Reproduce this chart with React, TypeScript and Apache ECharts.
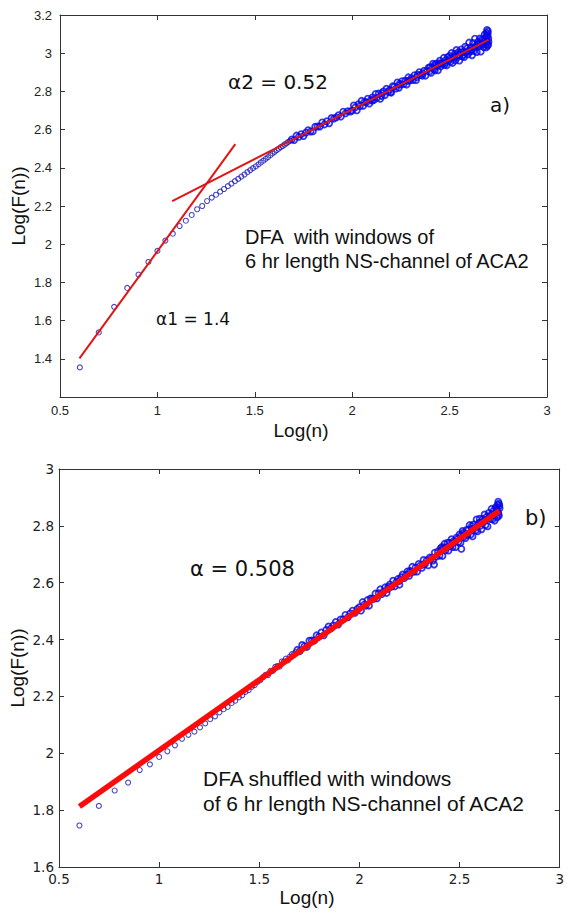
import React, { useEffect, useRef } from "react";
import * as echarts from "echarts";

// ---------- Data ----------
// Panel a): DFA of the original series, [Log(n), Log(F(n))]
const topPoints: number[][] = [
  [0.602, 1.355], [0.699, 1.538], [0.778, 1.672], [0.845, 1.771], [0.903, 1.841], [0.954, 1.907],
  [1.0, 1.965], [1.041, 2.019], [1.079, 2.055], [1.114, 2.095], [1.146, 2.123], [1.176, 2.153],
  [1.204, 2.183], [1.23, 2.2], [1.255, 2.226], [1.279, 2.244], [1.301, 2.259], [1.322, 2.275],
  [1.342, 2.289], [1.362, 2.304], [1.38, 2.317], [1.398, 2.33], [1.415, 2.342], [1.431, 2.354],
  [1.447, 2.365], [1.462, 2.377], [1.477, 2.388], [1.491, 2.398], [1.505, 2.408], [1.519, 2.418],
  [1.531, 2.428], [1.544, 2.437], [1.556, 2.447], [1.568, 2.456], [1.58, 2.466], [1.591, 2.475],
  [1.602, 2.484], [1.613, 2.493], [1.623, 2.5], [1.633, 2.508], [1.643, 2.514], [1.653, 2.522],
  [1.663, 2.528], [1.672, 2.536], [1.681, 2.541],
  [1.69, 2.549], [1.702, 2.545], [1.714, 2.569], [1.726, 2.562], [1.738, 2.576], [1.75, 2.566],
  [1.762, 2.584], [1.774, 2.597], [1.786, 2.59], [1.798, 2.591], [1.81, 2.615], [1.822, 2.616],
  [1.834, 2.616], [1.846, 2.638], [1.858, 2.627], [1.87, 2.644], [1.882, 2.633], [1.894, 2.661],
  [1.906, 2.657], [1.918, 2.664], [1.93, 2.676], [1.942, 2.668], [1.954, 2.694], [1.966, 2.685],
  [1.978, 2.697], [1.99, 2.694],
  [2.0, 2.699], [2.008, 2.727], [2.016, 2.717], [2.024, 2.701], [2.032, 2.733], [2.04, 2.723],
  [2.048, 2.751], [2.056, 2.724], [2.064, 2.746], [2.072, 2.742], [2.08, 2.762], [2.088, 2.736],
  [2.096, 2.756], [2.104, 2.769], [2.112, 2.755], [2.12, 2.787], [2.128, 2.767], [2.136, 2.789],
  [2.144, 2.761], [2.152, 2.79], [2.16, 2.8], [2.168, 2.78], [2.176, 2.814], [2.184, 2.798],
  [2.192, 2.808], [2.2, 2.793], [2.208, 2.827], [2.216, 2.825], [2.224, 2.815], [2.232, 2.847],
  [2.24, 2.819], [2.248, 2.836], [2.256, 2.854], [2.264, 2.838], [2.272, 2.856], [2.28, 2.836],
  [2.288, 2.874], [2.296, 2.858], [2.304, 2.869], [2.312, 2.859], [2.32, 2.885], [2.328, 2.859],
  [2.336, 2.887], [2.344, 2.901], [2.352, 2.886], [2.36, 2.882], [2.368, 2.908], [2.376, 2.882],
  [2.384, 2.908], [2.392, 2.924],
  [2.4, 2.927], [2.405, 2.897], [2.41, 2.925], [2.415, 2.945], [2.42, 2.917], [2.425, 2.91],
  [2.43, 2.945], [2.435, 2.933], [2.44, 2.91], [2.445, 2.948], [2.45, 2.961], [2.455, 2.931],
  [2.46, 2.948], [2.465, 2.943], [2.47, 2.976], [2.475, 2.939], [2.48, 2.964], [2.485, 2.936],
  [2.49, 2.979], [2.495, 2.961], [2.5, 2.986], [2.505, 2.956], [2.51, 3.001], [2.515, 2.949],
  [2.52, 2.983], [2.525, 2.98], [2.53, 2.963], [2.535, 3.017], [2.54, 2.978], [2.545, 3.006],
  [2.55, 2.961], [2.555, 3.005], [2.56, 3.02], [2.565, 2.984], [2.57, 3.006], [2.575, 2.98],
  [2.58, 3.034], [2.585, 3.004], [2.59, 3.026], [2.595, 2.994], [2.6, 3.056], [2.605, 3.009],
  [2.61, 3.032], [2.615, 2.989], [2.62, 3.054], [2.625, 3.011], [2.63, 3.076], [2.635, 3.037],
  [2.64, 3.006], [2.645, 3.059], [2.65, 3.036], [2.655, 3.077], [2.66, 3.008], [2.665, 3.073],
  [2.67, 3.068], [2.675, 3.032], [2.68, 3.098], [2.685, 3.046], [2.69, 3.107], [2.695, 3.039],
  [2.699, 3.078], [2.692, 3.122], [2.697, 3.115], [2.688, 3.03], [2.698, 3.045], [2.694, 3.09],
  [2.687, 3.085],
  // extra crowded points in the thick part of the band
  [2.103, 2.752], [2.151, 2.776], [2.197, 2.796], [2.243, 2.84], [2.287, 2.855], [2.331, 2.875],
  [2.362, 2.895], [2.398, 2.905], [2.422, 2.936], [2.452, 2.944], [2.478, 2.95], [2.503, 2.972],
  [2.527, 2.996], [2.552, 2.988], [2.572, 2.992], [2.593, 3.012], [2.612, 3.016], [2.628, 3.028],
  [2.642, 3.044], [2.657, 3.05], [2.668, 3.045], [2.678, 3.064], [2.683, 3.074], [2.691, 3.062],
  [2.696, 3.1], [2.7, 3.06],
];
// fitted lines of panel a)
const topFitAlpha1: number[][] = [[0.6, 1.402], [1.4, 2.524]];
const topFitAlpha2: number[][] = [[1.076, 2.226], [2.699, 3.07]];

// Panel b): DFA of the shuffled series
const bottomPoints: number[][] = [
  [0.602, 1.746], [0.699, 1.815], [0.778, 1.869], [0.845, 1.897], [0.903, 1.941], [0.954, 1.961],
  [1.0, 1.987], [1.041, 2.007], [1.079, 2.028], [1.114, 2.051], [1.146, 2.065], [1.176, 2.076],
  [1.204, 2.091], [1.23, 2.105], [1.255, 2.12], [1.279, 2.13], [1.301, 2.144], [1.322, 2.155],
  [1.342, 2.163], [1.362, 2.177], [1.38, 2.185], [1.398, 2.197], [1.415, 2.204], [1.431, 2.216],
  [1.447, 2.222], [1.462, 2.234], [1.477, 2.24], [1.491, 2.251], [1.505, 2.257], [1.519, 2.268],
  [1.531, 2.276], [1.544, 2.275], [1.556, 2.29], [1.568, 2.29], [1.58, 2.304], [1.591, 2.307],
  [1.602, 2.305], [1.613, 2.323], [1.623, 2.323], [1.633, 2.333], [1.643, 2.327], [1.653, 2.34],
  [1.663, 2.349], [1.672, 2.348], [1.681, 2.356],
  [1.69, 2.364], [1.702, 2.359], [1.714, 2.381], [1.726, 2.377], [1.738, 2.374], [1.75, 2.396],
  [1.762, 2.397], [1.774, 2.396], [1.786, 2.415], [1.798, 2.41], [1.81, 2.425], [1.822, 2.415],
  [1.834, 2.434], [1.846, 2.446], [1.858, 2.439], [1.87, 2.45], [1.882, 2.462], [1.894, 2.453],
  [1.906, 2.471], [1.918, 2.471], [1.93, 2.487], [1.942, 2.478], [1.954, 2.492], [1.966, 2.502],
  [1.978, 2.494], [1.99, 2.508],
  [2.0, 2.514], [2.008, 2.502], [2.016, 2.532], [2.024, 2.523], [2.032, 2.519], [2.04, 2.539],
  [2.048, 2.519], [2.056, 2.545], [2.064, 2.544], [2.072, 2.543], [2.08, 2.562], [2.088, 2.545],
  [2.096, 2.563], [2.104, 2.577], [2.112, 2.56], [2.12, 2.569], [2.128, 2.584], [2.136, 2.564],
  [2.144, 2.586], [2.152, 2.594], [2.16, 2.586], [2.168, 2.607], [2.176, 2.587], [2.184, 2.602],
  [2.192, 2.613], [2.2, 2.593], [2.208, 2.619], [2.216, 2.629], [2.224, 2.616], [2.232, 2.628],
  [2.24, 2.64], [2.248, 2.624], [2.256, 2.636], [2.264, 2.656], [2.272, 2.638], [2.28, 2.653],
  [2.288, 2.639], [2.296, 2.666], [2.304, 2.66], [2.312, 2.652], [2.32, 2.68], [2.328, 2.666],
  [2.336, 2.679], [2.344, 2.661], [2.352, 2.689], [2.36, 2.687], [2.368, 2.678], [2.376, 2.706],
  [2.384, 2.692], [2.392, 2.71], [2.373, 2.664],
  [2.4, 2.695], [2.405, 2.721], [2.41, 2.714], [2.415, 2.694], [2.42, 2.723], [2.425, 2.737],
  [2.43, 2.714], [2.435, 2.724], [2.44, 2.741], [2.445, 2.713], [2.45, 2.74], [2.455, 2.73],
  [2.46, 2.753], [2.465, 2.725], [2.47, 2.746], [2.475, 2.742], [2.48, 2.725], [2.485, 2.759],
  [2.49, 2.753], [2.495, 2.744], [2.5, 2.77], [2.505, 2.741], [2.51, 2.767], [2.515, 2.782],
  [2.52, 2.76], [2.525, 2.769], [2.53, 2.757], [2.535, 2.786], [2.54, 2.768], [2.545, 2.787],
  [2.509, 2.719],
  [2.55, 2.803], [2.555, 2.769], [2.56, 2.789], [2.565, 2.763], [2.57, 2.805], [2.575, 2.792],
  [2.58, 2.784], [2.585, 2.823], [2.59, 2.781], [2.595, 2.809], [2.6, 2.825], [2.605, 2.801],
  [2.61, 2.788], [2.615, 2.824], [2.62, 2.817], [2.625, 2.84], [2.63, 2.803], [2.635, 2.832],
  [2.64, 2.798], [2.645, 2.845], [2.65, 2.834], [2.655, 2.824], [2.66, 2.86], [2.665, 2.823],
  [2.67, 2.854], [2.675, 2.818], [2.68, 2.865], [2.685, 2.854], [2.69, 2.875], [2.695, 2.841],
  [2.699, 2.871], [2.693, 2.885], [2.697, 2.878], [2.688, 2.83], [2.696, 2.835],
  // extra crowded points
  [2.142, 2.578], [2.198, 2.606], [2.252, 2.642], [2.318, 2.664], [2.412, 2.726], [2.462, 2.738],
  [2.518, 2.775], [2.562, 2.8], [2.602, 2.812], [2.632, 2.822], [2.662, 2.842], [2.686, 2.862],
  [2.692, 2.848], [2.7, 2.862],
];
const bottomFit: number[][] = [[0.602, 1.813], [2.699, 2.853]];

// Axis ranges / ticks
const xRange = { min: 0.5, max: 3, interval: 0.5 };
const topYRange = { min: 1.2, max: 3.2, interval: 0.2 };
const bottomYRange = { min: 1.6, max: 3, interval: 0.2 };

const fmt = (v: number) => String(Math.round(v * 10) / 10);

function axis(
  gridIndex: number,
  position: string,
  range: { min: number; max: number; interval: number },
  showLabels: boolean,
  labelFont: { size: number; family: string; margin: number },
  hideBelow?: number
) {
  return {
    type: "value",
    gridIndex,
    position,
    min: range.min,
    max: range.max,
    interval: range.interval,
    axisLine: { show: true, onZero: false, lineStyle: { color: "#333", width: 1 } },
    axisTick: { show: true, inside: true, length: 5, lineStyle: { color: "#333", width: 1 } },
    splitLine: { show: false },
    axisLabel: {
      show: showLabels,
      color: "#222",
      fontSize: labelFont.size,
      fontFamily: labelFont.family,
      margin: labelFont.margin,
      showMinLabel: true,
      showMaxLabel: true,
      formatter: (v: number) => (hideBelow !== undefined && v < hideBelow ? "" : fmt(v)),
    },
  };
}

const topFont = { size: 13, family: "Liberation Sans, Arial, sans-serif", margin: 7 };
const topYFont = { size: 13, family: "Liberation Sans, Arial, sans-serif", margin: 8 };
const botFont = { size: 13.5, family: "DejaVu Sans, sans-serif", margin: 5 };

const SPARSE_COLOR = "#1c1cb4";
const DENSE_COLOR = "#0606e8";
const DENSE_FROM = 1.685;

function txt(text: string, x: number, y: number, font: string, extra: any = {}) {
  return {
    type: "text",
    x,
    y,
    ...extra,
    style: {
      text,
      font,
      fill: "#111",
      align: extra.align || "left",
      verticalAlign: "middle",
    },
    z: 100,
  };
}

function scatterPair(points: number[][], xi: number, yi: number) {
  const sparse = points.filter((p) => p[0] < DENSE_FROM);
  const dense = points.filter((p) => p[0] >= DENSE_FROM);
  return [
    {
      type: "scatter",
      xAxisIndex: xi,
      yAxisIndex: yi,
      data: sparse,
      symbol: "circle",
      symbolSize: 5,
      itemStyle: { color: "rgba(0,0,0,0)", borderColor: SPARSE_COLOR, borderWidth: 1.1 },
      z: 2,
    },
    {
      type: "scatter",
      xAxisIndex: xi,
      yAxisIndex: yi,
      data: dense,
      symbol: "circle",
      symbolSize: 6,
      itemStyle: { color: "rgba(0,0,0,0)", borderColor: DENSE_COLOR, borderWidth: 1.8 },
      z: 2,
    },
  ];
}

export default function App() {
  const ref = useRef<HTMLDivElement>(null);
  useEffect(() => {
    if (!ref.current) return;
    const chart = echarts.init(ref.current, undefined, { renderer: "svg" });
    const option: any = {
      animation: false,
      backgroundColor: "#fff",
      grid: [
        { left: 60, top: 15, width: 487, height: 382, show: false },
        { left: 59, top: 469, width: 501, height: 398, show: false },
      ],
      xAxis: [
        axis(0, "bottom", xRange, true, topFont),
        axis(0, "top", xRange, false, topFont),
        axis(1, "bottom", xRange, true, botFont),
        axis(1, "top", xRange, false, botFont),
      ],
      yAxis: [
        axis(0, "left", topYRange, true, topYFont, 1.3),
        axis(0, "right", topYRange, false, topYFont),
        axis(1, "left", bottomYRange, true, botFont),
        axis(1, "right", bottomYRange, false, botFont),
      ],
      series: [
        ...scatterPair(topPoints, 0, 0),
        {
          type: "line",
          xAxisIndex: 0,
          yAxisIndex: 0,
          data: topFitAlpha1,
          symbol: "none",
          lineStyle: { color: "#e01515", width: 2 },
          z: 3,
        },
        {
          type: "line",
          xAxisIndex: 0,
          yAxisIndex: 0,
          data: topFitAlpha2,
          symbol: "none",
          lineStyle: { color: "#e01515", width: 2 },
          z: 3,
        },
        ...scatterPair(bottomPoints, 2, 2),
        {
          type: "line",
          xAxisIndex: 2,
          yAxisIndex: 2,
          data: bottomFit,
          symbol: "none",
          lineStyle: { color: "#ff0a0a", width: 5.5 },
          z: 3,
        },
      ],
      graphic: [
        txt("α2 = 0.52", 228, 82, '20px "DejaVu Sans"'),
        txt("a)", 490, 105, '20px "DejaVu Sans"'),
        txt("DFA  with windows of", 245, 237, '20px "Liberation Sans", Arial'),
        txt("6 hr length NS-channel of ACA2", 245, 261, '20px "Liberation Sans", Arial'),
        txt("α1 = 1.4", 156, 319, '17px "DejaVu Sans"'),
        txt("Log(F(n))", 18, 206, '19px "Liberation Sans", Arial', { rotation: Math.PI / 2, align: "center" }),
        txt("Log(n)", 301, 430, '19px "Liberation Sans", Arial', { align: "center" }),
        txt("α = 0.508", 190, 569, '21px "DejaVu Sans"'),
        txt("b)", 525, 518, '21px "DejaVu Sans"'),
        txt("DFA shuffled with windows", 203, 778, '21px "Liberation Sans", Arial'),
        txt("of 6 hr length NS-channel of ACA2", 203, 803, '21px "Liberation Sans", Arial'),
        txt("Log(F(n))", 17, 668, '19px "Liberation Sans", Arial', { rotation: Math.PI / 2, align: "center" }),
        txt("Log(n)", 307, 897, '19px "Liberation Sans", Arial', { align: "center" }),
      ],
    };
    chart.setOption(option);
    return () => chart.dispose();
  }, []);
  return (
    <div
      ref={ref}
      style={{ position: "absolute", left: 0, top: 0, width: 567, height: 913, background: "#fff" }}
    />
  );
}
